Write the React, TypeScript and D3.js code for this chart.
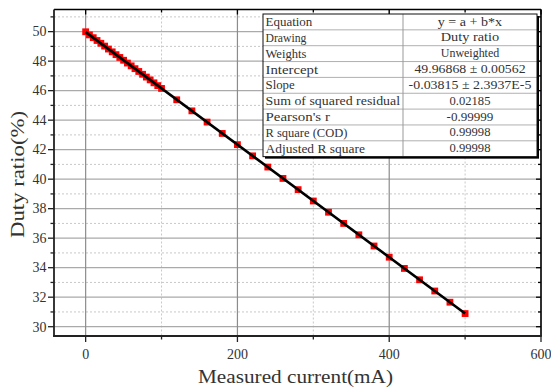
import React from "react";
import * as d3 from "d3";

const currentMA = [0, 5, 10, 15, 20, 25, 30, 35, 40, 45, 50, 55, 60, 65, 70, 75, 80, 85, 90, 95, 100,
  120, 140, 160, 180, 200, 220, 240, 260, 280, 300, 320, 340, 360, 380, 400, 420, 440, 460, 480, 500];
const dutyRatio = [49.99, 49.78, 49.59, 49.40, 49.21, 49.02, 48.82, 48.63, 48.44, 48.25, 48.06, 47.87, 47.68, 47.49, 47.30, 47.11, 46.92, 46.73, 46.53, 46.34, 46.15,
  45.38, 44.63, 43.87, 43.10, 42.34, 41.58, 40.82, 40.05, 39.29, 38.52, 37.76, 37.00, 36.23, 35.47, 34.71, 33.95, 33.18, 32.42, 31.66, 30.89];
const fitIntercept = 49.96868;
const fitSlope = -0.03815;

const xTicks = [0, 200, 400, 600];
const xMinor = [100, 300, 500];
const yTicks = [30, 32, 34, 36, 38, 40, 42, 44, 46, 48, 50];
const yMinor = [31, 33, 35, 37, 39, 41, 43, 45, 47, 49, 51];

const tableLabels = ["Equation", "Drawing", "Weights", "Intercept", "Slope", "Sum of squared residual", "Pearson's r", "R square (COD)", "Adjusted R square"];
const tableValues = ["y = a + b*x", "Duty ratio", "Unweighted", "49.96868 \u00b1 0.00562", "-0.03815 \u00b1 2.3937E-5", "0.02185", "-0.99999", "0.99998", "0.99998"];

const W = 551, H = 387;
const L = 54, R = 541, T = 9.5, B = 336;
const SERIF = "Liberation Serif, DejaVu Serif, serif";
const TXT = "#333";

function units(s: string) {
  let n = 0;
  for (const c of s) n += c === "\u00b1" ? 2 : 1;
  return n;
}

export default function App() {
  const x = d3.scaleLinear().domain([-41.7, 600]).range([L, R]);
  const y = d3.scaleLinear().domain([29.37, 51.5]).range([B, T]);
  const xs = d3.extent(currentMA) as [number, number];
  const line = d3.line<number>().x(d => x(d)).y(d => y(fitIntercept + fitSlope * d));
  const ms = 6.8;

  const tx0 = 263, tx1 = 403, tx2 = 537, ty0 = 14, rowH = 15.85;
  const cw = 5.85;
  const txt = (size: number) => ({ fontFamily: SERIF, fontSize: size });

  return (
    <svg width={W} height={H} style={{ position: "absolute", left: 0, top: 0, background: "#fff" }}>
      <rect x={0} y={0} width={W} height={H} fill="#fff" />
      {yMinor.map(v => (
        <line key={"ym" + v} x1={L} x2={R} y1={y(v)} y2={y(v)} stroke="#c8c8c8" strokeWidth={1} strokeDasharray="2,2" />
      ))}
      {xMinor.map(v => (
        <line key={"xm" + v} x1={x(v)} x2={x(v)} y1={T} y2={B} stroke="#c8c8c8" strokeWidth={1} strokeDasharray="2,2" />
      ))}
      {yTicks.map(v => (
        <line key={"yg" + v} x1={L} x2={R} y1={y(v)} y2={y(v)} stroke="#aaaaaa" strokeWidth={1.3} />
      ))}
      {xTicks.map(v => (
        <line key={"xg" + v} x1={x(v)} x2={x(v)} y1={T} y2={B} stroke="#8c8c8c" strokeWidth={1.2} />
      ))}
      {currentMA.map((c, i) => (
        <rect key={"m" + i} x={x(c) - ms / 2} y={y(dutyRatio[i]) - ms / 2} width={ms} height={ms} fill="#ff0000" />
      ))}
      <path d={line([xs[0], xs[1]]) || ""} stroke="#000" strokeWidth={2.6} fill="none" />
      <line x1={L} x2={R} y1={T} y2={T} stroke="#000" strokeWidth={1.5} />
      <line x1={R} x2={R} y1={T} y2={B} stroke="#000" strokeWidth={1.5} />
      <line x1={L} x2={L} y1={T} y2={B + 0.75} stroke="#222" strokeWidth={1.8} />
      <line x1={L - 0.9} x2={R + 0.75} y1={B} y2={B} stroke="#222" strokeWidth={1.8} />
      {yTicks.map(v => (
        <g key={"yt" + v}>
          <line x1={L - 6} x2={L} y1={y(v)} y2={y(v)} stroke="#222" strokeWidth={1.3} />
          <line x1={R - 5} x2={R} y1={y(v)} y2={y(v)} stroke="#000" strokeWidth={1.3} />
          <text x={L - 7.5} y={y(v) + 4.8} textAnchor="end" style={txt(14)} fill={TXT}>{v}</text>
        </g>
      ))}
      {yMinor.map(v => (
        <g key={"ytm" + v}>
          <line x1={L - 3.5} x2={L} y1={y(v)} y2={y(v)} stroke="#222" strokeWidth={1.3} />
          <line x1={R - 3} x2={R} y1={y(v)} y2={y(v)} stroke="#000" strokeWidth={1.3} />
        </g>
      ))}
      {xTicks.map(v => (
        <g key={"xt" + v}>
          <line x1={x(v)} x2={x(v)} y1={B} y2={B + 6} stroke="#222" strokeWidth={1.3} />
          <line x1={x(v)} x2={x(v)} y1={T} y2={T + 5} stroke="#000" strokeWidth={1.3} />
          <text x={x(v)} y={B + 23} textAnchor="middle" style={txt(14)} fill={TXT}>{v}</text>
        </g>
      ))}
      {xMinor.map(v => (
        <g key={"xtm" + v}>
          <line x1={x(v)} x2={x(v)} y1={B} y2={B + 3.5} stroke="#222" strokeWidth={1.3} />
          <line x1={x(v)} x2={x(v)} y1={T} y2={T + 3} stroke="#000" strokeWidth={1.3} />
        </g>
      ))}
      <text x={295.5} y={383} textAnchor="middle" style={txt(19)} fill={TXT}
        textLength={195} lengthAdjust="spacingAndGlyphs">Measured current(mA)</text>
      <text transform={`translate(24,${(111 + 238) / 2}) rotate(-90)`} textAnchor="middle" style={txt(19)} fill={TXT}
        textLength={127} lengthAdjust="spacingAndGlyphs">Duty ratio(%)</text>
      <rect x={tx0 + 2} y={ty0 + 2} width={tx2 - tx0} height={rowH * 9} fill="#000" />
      <rect x={tx0} y={ty0} width={tx2 - tx0} height={rowH * 9} fill="#fff" />
      {tableLabels.map((lab, i) => (
        <g key={"row" + i}>
          {i > 0 && <line x1={tx0} x2={tx2} y1={ty0 + rowH * i} y2={ty0 + rowH * i} stroke="#b0b0b0" strokeWidth={1} />}
          <text x={tx0 + 2.5} y={ty0 + rowH * i + 12} style={txt(13)} fill={TXT}
            textLength={units(lab) * cw} lengthAdjust="spacingAndGlyphs">{lab}</text>
          <text x={(tx1 + tx2) / 2} y={ty0 + rowH * i + 11.5} textAnchor="middle" style={txt(13)} fill={TXT}
            textLength={units(tableValues[i]) * cw} lengthAdjust="spacingAndGlyphs">{tableValues[i]}</text>
        </g>
      ))}
      <line x1={tx1} x2={tx1} y1={ty0} y2={ty0 + rowH * 9} stroke="#999" strokeWidth={1} />
      <rect x={tx0} y={ty0} width={tx2 - tx0} height={rowH * 9} fill="none" stroke="#111" strokeWidth={1} />
    </svg>
  );
}
